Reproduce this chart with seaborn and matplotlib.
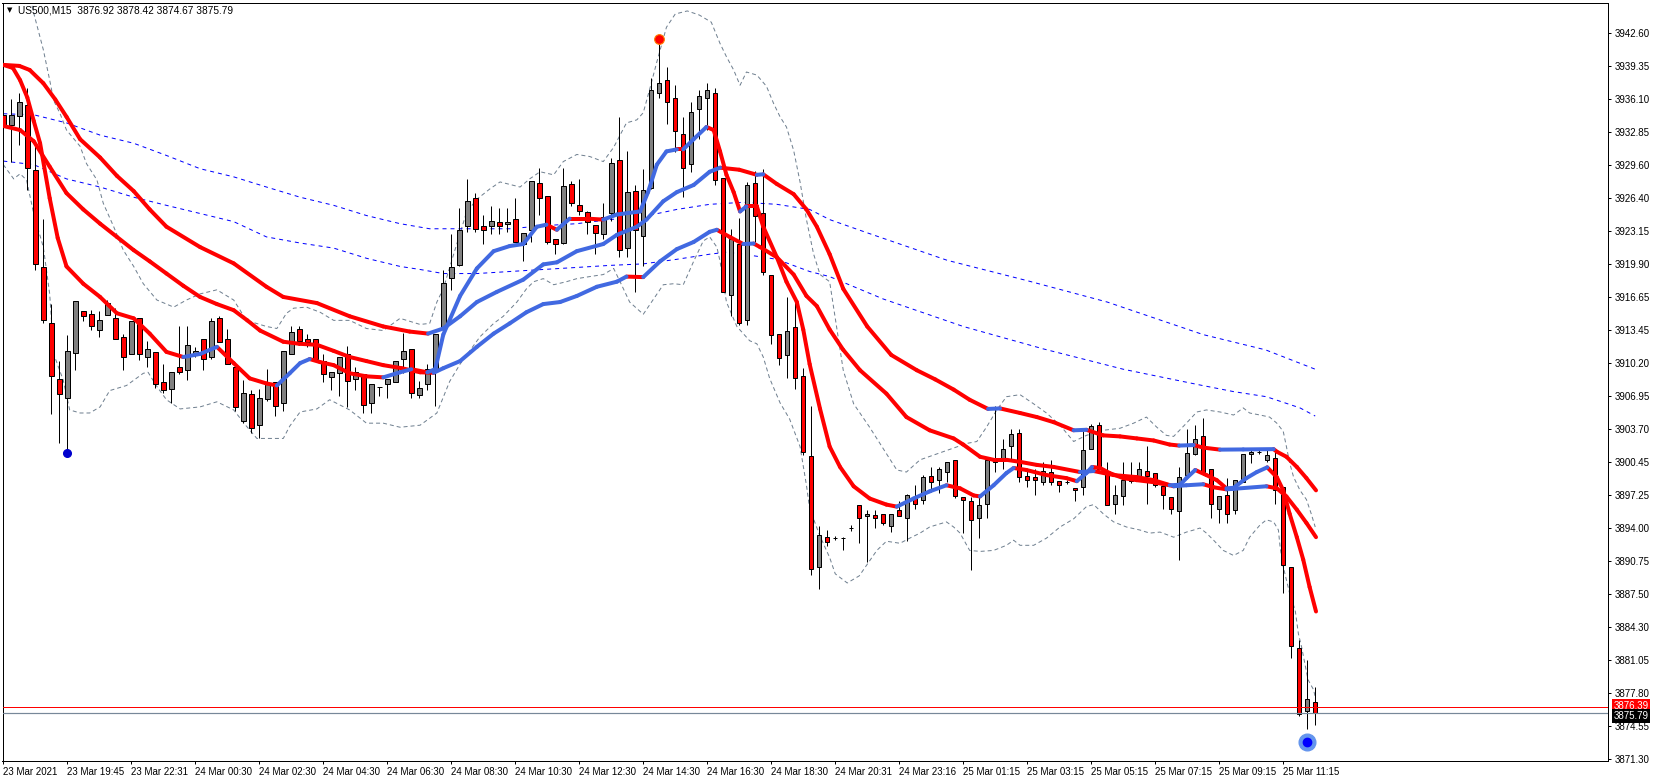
import numpy as np
import pandas as pd
import matplotlib
matplotlib.use("Agg")
import matplotlib.pyplot as plt
import seaborn as sns
from matplotlib.transforms import blended_transform_factory

sns.set_style("white")
plt.rcParams['font.family'] = ['Liberation Sans', 'DejaVu Sans']

# ---------------- data ----------------
title_text = "US500,M15  3876.92 3878.42 3874.67 3875.79"

bar_open = [
3934.6, 3933.6, 3934.5, 3935.6, 3929.2, 3919.6, 3914.1, 3908.6, 3906.8, 3911.2,
3915.3, 3915.0, 3913.5, 3914.9, 3914.6, 3912.8, 3911.1, 3914.6, 3910.8, 3911.3,
3908.3, 3907.7, 3909.8, 3909.5, 3911.2, 3912.6, 3910.8, 3914.6, 3912.6, 3909.8,
3904.5, 3907.2, 3904.1, 3906.7, 3908.3, 3906.3, 3911.1, 3913.6, 3912.6, 3912.6,
3910.4, 3908.8, 3909.2, 3911.1, 3908.6, 3909.1, 3906.3, 3907.9, 3908.1, 3908.3,
3910.6, 3911.6, 3907.1, 3908.1, 3909.5, 3913.6, 3918.6, 3919.8, 3923.7, 3926.4,
3923.7, 3923.7, 3924.1, 3923.9, 3924.4, 3921.9, 3923.3, 3927.9, 3926.6, 3922.4,
3922.0, 3927.8, 3925.7, 3925.0, 3923.8, 3922.9, 3924.9, 3930.2, 3921.5, 3927.1,
3922.7, 3927.4, 3936.7, 3938.0, 3936.2, 3932.7, 3929.8, 3935.2, 3936.2, 3936.7,
3928.4, 3916.9, 3921.9, 3914.4, 3927.9, 3924.9, 3918.9, 3913.1, 3911.0, 3913.7,
3908.9, 3901.1, 3890.2, 3893.1, 3893.0, 3893.0, 3894.0, 3896.3, 3895.2, 3895.3,
3895.4, 3894.2, 3895.8, 3895.0, 3897.0, 3896.8, 3899.1, 3898.7, 3899.5, 3900.7,
3897.0, 3896.7, 3895.0, 3896.4, 3900.9, 3900.7, 3902.1, 3903.3, 3899.1, 3899.0,
3898.5, 3899.5, 3898.6, 3898.5, 3897.9, 3898.0, 3901.8, 3904.1, 3899.6, 3896.4,
3897.1, 3898.6, 3898.9, 3899.6, 3899.4, 3898.1, 3897.0, 3895.7, 3899.2, 3901.3,
3903.0, 3899.8, 3895.9, 3897.2, 3895.8, 3898.5, 3901.3, 3901.5, 3900.7, 3900.9,
3898.0, 3890.2, 3882.2, 3876.0, 3876.92]

bar_high = [
3935.9, 3936.1, 3936.7, 3937.2, 3931.5, 3924.4, 3916.0, 3910.4, 3913.0, 3916.3,
3915.3, 3915.4, 3915.3, 3916.4, 3915.6, 3913.1, 3914.3, 3914.6, 3912.4, 3911.3,
3910.1, 3909.3, 3913.8, 3913.8, 3911.8, 3912.6, 3914.6, 3914.8, 3913.6, 3910.1,
3908.5, 3907.6, 3907.7, 3909.6, 3908.3, 3911.4, 3913.8, 3913.8, 3913.1, 3912.6,
3911.1, 3909.3, 3910.8, 3911.9, 3909.8, 3909.1, 3908.1, 3907.9, 3908.6, 3910.4,
3913.2, 3911.6, 3908.4, 3910.1, 3913.1, 3919.3, 3922.9, 3925.4, 3928.3, 3926.9,
3924.8, 3925.6, 3925.4, 3925.4, 3926.4, 3923.0, 3928.1, 3929.4, 3926.6, 3922.4,
3929.4, 3928.1, 3928.3, 3925.1, 3923.8, 3925.9, 3930.4, 3934.4, 3931.0, 3927.7,
3929.3, 3938.2, 3942.0, 3939.3, 3937.5, 3934.4, 3935.9, 3937.0, 3937.7, 3937.2,
3928.4, 3923.4, 3924.5, 3928.0, 3929.1, 3929.3, 3918.9, 3913.1, 3916.7, 3916.4,
3909.7, 3906.0, 3894.2, 3893.8, 3893.2, 3893.15, 3894.3, 3896.3, 3895.8, 3895.8,
3895.4, 3895.4, 3896.7, 3897.3, 3898.2, 3899.2, 3900.0, 3900.0, 3900.5, 3900.7,
3897.0, 3897.0, 3897.0, 3900.7, 3906.0, 3902.7, 3903.7, 3903.7, 3899.8, 3899.8,
3900.5, 3900.7, 3898.6, 3898.7, 3897.9, 3903.5, 3904.2, 3904.4, 3900.5, 3898.2,
3900.5, 3900.5, 3900.5, 3902.1, 3899.4, 3898.1, 3897.0, 3900.0, 3903.7, 3904.1,
3904.8, 3899.8, 3897.1, 3898.9, 3898.7, 3901.3, 3901.7, 3901.7, 3901.7, 3901.7,
3898.0, 3890.2, 3883.0, 3881.0, 3878.42]

bar_low = [
3931.0, 3930.0, 3931.6, 3927.2, 3919.3, 3914.1, 3905.2, 3902.4, 3901.7, 3909.5,
3914.3, 3913.5, 3912.8, 3914.9, 3912.6, 3909.5, 3911.1, 3910.5, 3909.8, 3907.8,
3907.3, 3906.3, 3909.1, 3908.5, 3910.8, 3909.5, 3910.6, 3912.3, 3910.1, 3905.5,
3904.3, 3903.3, 3902.8, 3906.5, 3905.0, 3905.5, 3911.1, 3912.0, 3911.8, 3910.6,
3908.3, 3907.6, 3907.0, 3905.9, 3907.6, 3905.3, 3905.3, 3907.0, 3906.8, 3908.3,
3909.2, 3906.8, 3906.8, 3907.6, 3906.0, 3913.5, 3917.4, 3919.7, 3923.1, 3923.1,
3921.9, 3922.9, 3922.9, 3923.1, 3922.1, 3920.2, 3922.1, 3924.8, 3921.9, 3920.9,
3921.9, 3925.6, 3924.8, 3922.9, 3920.9, 3922.4, 3924.2, 3920.6, 3920.6, 3917.2,
3919.7, 3927.3, 3936.2, 3933.7, 3930.9, 3926.5, 3929.0, 3932.2, 3933.1, 3927.7,
3917.2, 3914.8, 3913.9, 3913.9, 3922.1, 3918.9, 3912.1, 3910.0, 3908.7, 3907.7,
3901.2, 3889.4, 3888.0, 3892.2, 3892.8, 3891.8, 3893.7, 3892.5, 3890.7, 3894.0,
3894.3, 3893.6, 3895.2, 3892.7, 3895.9, 3896.4, 3897.5, 3897.4, 3898.5, 3896.9,
3893.5, 3889.9, 3893.0, 3895.0, 3899.5, 3899.8, 3900.8, 3898.5, 3898.0, 3897.2,
3898.2, 3898.2, 3897.5, 3898.3, 3896.7, 3897.2, 3901.8, 3899.7, 3896.3, 3895.4,
3896.3, 3898.4, 3898.9, 3896.4, 3898.0, 3895.9, 3895.4, 3890.9, 3898.9, 3901.2,
3899.2, 3895.0, 3894.5, 3894.5, 3895.4, 3898.5, 3900.4, 3901.3, 3900.5, 3896.4,
3887.6, 3881.2, 3875.5, 3874.3, 3874.67]

bar_close = [
3933.4, 3934.6, 3935.9, 3929.4, 3919.9, 3914.4, 3908.9, 3907.2, 3911.4, 3916.3,
3914.8, 3913.8, 3914.4, 3916.1, 3912.6, 3910.8, 3914.3, 3911.1, 3911.6, 3908.1,
3907.6, 3909.3, 3909.3, 3912.0, 3911.4, 3910.6, 3914.3, 3912.3, 3910.1, 3905.9,
3907.3, 3903.8, 3906.8, 3908.1, 3906.0, 3911.4, 3913.3, 3912.4, 3912.3, 3910.6,
3909.1, 3909.3, 3910.8, 3908.4, 3909.3, 3906.1, 3908.1, 3907.9, 3908.6, 3910.4,
3911.4, 3907.3, 3907.8, 3909.6, 3913.1, 3918.1, 3919.6, 3923.3, 3926.1, 3923.4,
3923.3, 3924.2, 3923.7, 3924.1, 3922.1, 3923.0, 3928.1, 3926.4, 3922.1, 3921.9,
3927.6, 3925.9, 3925.1, 3924.1, 3923.0, 3924.6, 3929.9, 3921.3, 3927.0, 3923.3,
3927.2, 3937.0, 3937.7, 3935.9, 3933.0, 3929.4, 3934.9, 3936.4, 3937.0, 3928.2,
3917.2, 3922.4, 3914.1, 3927.7, 3924.7, 3919.2, 3913.0, 3910.7, 3913.4, 3908.7,
3901.5, 3890.0, 3893.3, 3892.6, 3893.0, 3893.0, 3894.0, 3895.0, 3895.4, 3895.0,
3894.5, 3895.4, 3895.2, 3897.2, 3896.4, 3899.0, 3898.5, 3899.8, 3900.5, 3897.1,
3896.8, 3894.8, 3896.3, 3900.7, 3900.5, 3901.8, 3903.2, 3899.0, 3898.7, 3898.7,
3899.6, 3898.5, 3898.2, 3898.5, 3897.7, 3901.7, 3904.0, 3899.8, 3896.3, 3897.2,
3898.7, 3898.9, 3899.8, 3899.1, 3898.2, 3897.2, 3895.9, 3899.0, 3901.4, 3902.7,
3899.5, 3896.4, 3897.1, 3895.4, 3898.7, 3901.3, 3901.5, 3901.5, 3901.2, 3897.7,
3890.4, 3882.4, 3875.7, 3877.2, 3875.79]

time_labels = ["23 Mar 2021", "23 Mar 19:45", "23 Mar 22:31", "24 Mar 00:30", "24 Mar 02:30",
               "24 Mar 04:30", "24 Mar 06:30", "24 Mar 08:30", "24 Mar 10:30", "24 Mar 12:30",
               "24 Mar 14:30", "24 Mar 16:30", "24 Mar 18:30", "24 Mar 20:31", "24 Mar 23:16",
               "25 Mar 01:15", "25 Mar 03:15", "25 Mar 05:15", "25 Mar 07:15", "25 Mar 09:15",
               "25 Mar 11:15"]

price_labels = ["3871.30", "3874.55", "3877.80", "3881.05", "3884.30", "3887.50", "3890.75",
                "3894.00", "3897.25", "3900.45", "3903.70", "3906.95", "3910.20", "3913.45",
                "3916.65", "3919.90", "3923.15", "3926.40", "3929.60", "3932.85", "3936.10",
                "3939.35", "3942.60"]

# thick moving averages (bar index, price)
slow_x = [0, 2, 3.3, 5, 6.5, 7.9, 9.6, 12.1, 14.2, 16.3, 18.3, 20.4, 24.6, 28.8, 32.9, 35, 39.2, 43.3,
          47.5, 50.8, 53.1, 55, 57.1, 59.2, 61.7, 65, 67.5, 69.2, 71.7, 75, 76.7, 79.2, 80.4, 82.5,
          84.2, 86.3, 88.3, 89.6, 92, 94.2, 95, 96.7, 98.8, 100.4, 101.7, 103.3, 105, 108, 111,
          114.2, 116.5, 118.8, 120.8, 123.1, 124.6, 127.1, 129.2, 131.3, 133.8, 135.4, 137.5,
          139.6, 141.7, 143.8, 145.8, 147, 148.8, 150, 152.1, 155, 158.8, 159.2, 160.4, 161.7,
          162.9, 164.1]
slow_y = [3939.5, 3939.4, 3939.0, 3937.7, 3936.1, 3934.4, 3932.2, 3930.4, 3928.6, 3927.1,
          3925.3, 3923.6, 3921.6, 3920.0, 3917.7, 3916.7, 3916.1, 3914.8, 3913.8, 3913.3,
          3913.1, 3913.6, 3914.8, 3916.2, 3917.2, 3918.4, 3919.9, 3920.1, 3921.2, 3921.9,
          3922.8, 3923.6, 3924.3, 3926.1, 3927.0, 3927.7, 3929.0, 3929.4, 3929.2, 3928.7,
          3928.75, 3927.8, 3926.8, 3925.3, 3923.6, 3920.9, 3917.5, 3913.8, 3911.0, 3909.5,
          3908.6, 3907.6, 3906.6, 3905.7, 3905.75, 3905.3, 3904.9, 3904.4, 3903.6, 3903.65,
          3903.1, 3903.0, 3902.8, 3902.6, 3902.2, 3902.1, 3902.15, 3901.9, 3901.7, 3901.72,
          3901.75, 3901.5, 3901.0, 3900.0, 3898.9, 3897.7]

mid_x = [0, 2.1, 3.8, 5.8, 7.9, 10, 12.1, 14.2, 16.3, 18.3, 20.4, 22.5, 24.6, 26.7, 28.8, 30.5,
         32.1, 35, 37, 39.2, 41.3, 43.3, 45.4, 47.5, 49.8, 52.1, 53.8, 55, 57.1, 59.2, 61.3, 63.3,
         65.4, 67.5, 69.6, 71.7, 74.2, 76.7, 77.9, 80, 82.1, 84.2, 86.3, 88.3, 89.2, 90.8, 92.5,
         93.8, 94.6, 96.7, 98.8, 100.4, 101.7, 103.3, 105, 107.1, 110.4, 112.9, 115.8, 118.8,
         120, 122.1, 123.8, 125.4, 127.1, 129.2, 131.3, 134.6, 136.3, 138.8, 141.7, 143.8,
         146.3, 147.9, 150, 151.3, 152.9, 153.8, 157.9, 159.2, 160.4, 161.7, 162.9, 164.1]
mid_y = [3933.5, 3933.1, 3932.0, 3929.5, 3926.9, 3925.3, 3923.9, 3922.6, 3921.3, 3920.2,
         3919.0, 3917.8, 3916.7, 3916.0, 3915.4, 3914.4, 3913.4, 3912.3, 3912.1, 3912.0,
         3911.4, 3910.8, 3910.4, 3910.0, 3909.7, 3909.3, 3909.25, 3909.7, 3910.4, 3911.8,
         3913.1, 3914.1, 3915.2, 3916.0, 3916.2, 3916.8, 3917.7, 3918.2, 3918.7, 3918.65,
         3920.2, 3921.4, 3922.1, 3923.1, 3923.3, 3922.6, 3921.9, 3921.95, 3921.6, 3920.6,
         3918.9, 3916.8, 3915.8, 3913.5, 3911.5, 3909.5, 3907.2, 3904.9, 3903.6, 3902.8,
         3902.2, 3901.0, 3900.7, 3900.7, 3900.5, 3900.2, 3900.0, 3899.5, 3899.6, 3899.2,
         3899.0, 3898.7, 3898.1, 3898.2, 3898.3, 3898.0, 3897.8, 3897.85, 3898.1, 3897.9,
         3897.1, 3895.8, 3894.5, 3893.1]

fast_x = [0, 1.2, 2.1, 3, 3.8, 4.6, 5.8, 6.8, 7.9, 10, 12.1, 14.2, 16.3, 18.3, 20.4, 22.5, 24.6,
          26.7, 28.8, 30.8, 32.9, 34.2, 35.8, 37.1, 38.3, 39.6, 41.3, 43.3, 45.4, 47.5, 49.6, 51,
          53, 54, 55, 57.1, 59.2, 61.3, 63.3, 65, 66.7, 67.9, 69.2, 70.8, 72.9, 75, 76.7, 79.6,
          80.6, 81.7, 82.9, 84.2, 85, 86.3, 87.9, 88.8, 89.6, 90.4, 91.3, 92.1, 92.9, 94.2, 95,
          96.7, 97.9, 99.2, 100, 100.8, 102.1, 103.3, 104.6, 106.3, 108.3, 110.4, 111.7, 113.8,
          115.8, 117.9, 119.6, 121.3, 122.1, 123.8, 125.4, 126.3, 127.9, 130.4, 132.9, 134.2,
          135.4, 136.1, 137.1, 138.3, 140, 141.7, 143.8, 145.8, 147.1, 147.9, 149, 150.4, 151.7,
          152.9, 153.8, 155.4, 156.7, 158, 159.2, 160, 160.8, 161.7, 162.5, 163.3, 164.1]
fast_y = [3939.5, 3939.2, 3938.0, 3936.3, 3934.0, 3931.8, 3926.4, 3922.5, 3919.7, 3918.0,
          3916.7, 3915.1, 3914.6, 3913.1, 3911.3, 3910.8, 3911.1, 3911.8, 3910.2, 3908.7,
          3908.2, 3908.0, 3909.2, 3910.2, 3910.6, 3910.3, 3910.0, 3909.2, 3908.9, 3908.8,
          3909.3, 3909.6, 3909.3, 3909.6, 3913.0, 3916.8, 3919.5, 3921.2, 3921.7, 3921.9,
          3923.6, 3923.8, 3923.3, 3924.4, 3924.4, 3924.3, 3924.8, 3925.1, 3927.0, 3929.7,
          3931.0, 3931.2, 3931.2, 3932.2, 3933.4, 3933.1, 3931.0, 3928.7, 3927.0, 3925.1,
          3925.6, 3925.6, 3923.6, 3920.6, 3918.2, 3916.2, 3913.5, 3910.1, 3905.7, 3902.0,
          3900.0, 3898.1, 3896.9, 3896.3, 3896.1, 3896.9, 3897.6, 3898.2, 3897.9, 3897.2,
          3897.1, 3898.2, 3899.4, 3899.9, 3899.7, 3899.2, 3898.9, 3898.6, 3899.4, 3900.0,
          3899.9, 3899.4, 3898.9, 3898.7, 3898.5, 3898.2, 3898.25, 3898.9, 3899.7, 3899.2,
          3898.7, 3897.9, 3897.95, 3898.9, 3899.5, 3899.96, 3899.0, 3897.7, 3895.4, 3893.1,
          3890.9, 3888.2, 3885.8]

# long moving averages (blue dotted)
ma1_x = [0, 3.8, 7.9, 12.1, 16.3, 20.4, 24.6, 28.8, 32.9, 37.1, 41.3, 45.4, 49.6, 53.3, 59.2, 63.3,
         67.5, 71.7, 75.8, 80, 84.2, 88.3, 92.5, 96.7, 100.8, 103.3, 108, 118, 128, 138, 150,
         157.8, 164]
ma1_y = [3934.7, 3934.6, 3933.8, 3932.6, 3931.8, 3930.6, 3929.3, 3928.5, 3927.5, 3926.5,
         3925.7, 3924.7, 3923.9, 3923.4, 3923.4, 3923.4, 3923.7, 3923.9, 3924.3, 3924.6,
         3925.3, 3925.8, 3926.0, 3925.8, 3925.3, 3924.3, 3923.0, 3920.3, 3918.3, 3916.2,
         3913.0, 3911.5, 3909.6]
ma2_x = [0, 3.8, 7.9, 12.1, 16.3, 20.4, 24.6, 28.8, 32.9, 37.1, 41.3, 45.4, 49.6, 52.1, 55, 59.2,
         63.3, 67.5, 71.7, 75.8, 80, 84.2, 88.3, 90.4, 92.5, 96.7, 100.8, 103.3, 110, 120, 130,
         140, 149.6, 153.8, 157.9, 162.1, 164]
ma2_y = [3930.05, 3929.7, 3928.3, 3927.5, 3926.5, 3925.7, 3924.9, 3924.1, 3922.6, 3922.0,
         3921.5, 3920.5, 3919.7, 3919.4, 3919.0, 3919.0, 3919.2, 3919.4, 3919.6, 3919.8,
         3919.95, 3920.4, 3920.9, 3921.1, 3920.9, 3920.4, 3919.2, 3918.7, 3916.5, 3913.8,
         3911.6, 3909.6, 3908.05, 3907.4, 3906.9, 3905.8, 3905.0]

# Bollinger bands (gray dashed)
bbu_x = [3.0, 3.7, 5, 5.8, 6.3, 7.1, 7.9, 9.6, 10.4, 11.7, 12.5, 13.8, 15, 16.3, 17.5, 19.2, 21.3,
         22.9, 24.6, 26.7, 28.8, 30.4, 32.9, 34.2, 35.4, 36.3, 37.9, 39.6, 41.3, 43.3, 45.4,
         47.5, 49.6, 52.1, 53.3, 54.2, 55, 56.3, 57.9, 59.2, 60.8, 62.1, 64.6, 65.8, 67.1, 68.8,
         70, 71.7, 73.3, 75, 76.3, 77.9, 79.2, 80, 80.8, 81.7, 82.9, 84, 85.5, 87, 88.5, 89.6,
         90.4, 91.3, 92.1, 92.9, 94.2, 95.4, 96.3, 97.1, 97.9, 98.8, 99.6, 100.4, 101.3, 102.1,
         103.3, 105, 106.3, 108.3, 110.4, 111.7, 112.9, 114.6, 117.5, 120.4, 121.7, 122.9,
         124.2, 125.4, 127.1, 128.8, 130.4, 132.1, 133.8, 135.4, 137.5, 139.6, 141.3, 142.9,
         144.2, 145.4, 146.3, 147.9, 149.2, 150.4, 152.1, 153.8, 155, 155.8, 157.1, 158.3,
         159.2, 160, 160.4, 160.8, 161.3, 162.1, 162.9, 163.5, 164]
bbu_y = [3947.5, 3944.9, 3941.0, 3938.0, 3936.0, 3934.7, 3933.1, 3931.5, 3929.8, 3928.2,
         3925.9, 3923.6, 3921.3, 3919.7, 3918.0, 3916.4, 3915.7, 3916.4, 3917.0, 3917.4,
         3916.4, 3914.4, 3913.8, 3913.6, 3915.1, 3915.6, 3915.7, 3915.2, 3914.4, 3914.4,
         3913.6, 3913.4, 3914.6, 3914.0, 3914.1, 3916.2, 3917.5, 3920.9, 3925.0, 3926.3,
         3927.3, 3928.0, 3927.5, 3928.3, 3929.0, 3928.7, 3930.0, 3930.7, 3930.5, 3930.0,
         3931.4, 3933.8, 3934.1, 3934.8, 3937.1, 3939.8, 3943.2, 3944.5, 3944.8, 3944.4,
         3943.7, 3941.6, 3940.3, 3939.0, 3937.5, 3938.8, 3938.5, 3937.4, 3935.7, 3934.4,
         3933.4, 3931.1, 3928.0, 3924.3, 3920.9, 3918.9, 3918.2, 3909.5, 3906.2, 3903.9,
         3901.3, 3899.7, 3899.5, 3900.7, 3901.5, 3902.3, 3902.5, 3903.9, 3905.6, 3906.9,
         3907.1, 3906.2, 3905.3, 3904.1, 3902.5, 3903.1, 3903.6, 3903.8, 3904.3, 3904.9,
         3903.9, 3903.1, 3903.0, 3904.3, 3905.4, 3905.6, 3905.4, 3905.1, 3905.8, 3905.3,
         3905.1, 3904.9, 3904.3, 3903.5, 3902.0, 3900.4, 3899.0, 3897.7, 3896.8, 3895.4,
         3894.1]
bbl_x = [0, 1.3, 2.1, 2.9, 3.8, 5, 5.8, 6.3, 7.5, 8.3, 9.6, 10.8, 12.1, 13.3, 15.4, 17.5, 18.1,
         19.2, 20.4, 22.1, 24.6, 26.7, 28.8, 30.4, 31.7, 35, 35.8, 37.1, 39.2, 40.8, 43.3, 45.4,
         47.5, 49.6, 52.1, 54.2, 55.8, 57.1, 58.3, 59.6, 61.3, 62.5, 64.2, 65.4, 66.3, 67.5,
         68.8, 70.4, 71.7, 73.3, 75, 76.3, 77.1, 78.3, 80, 81.3, 82.5, 83.8, 85, 86.3, 87.5,
         88.3, 89.2, 89.6, 90.4, 91.7, 93.3, 94.2, 95, 95.8, 97.1, 98.3, 99.6, 100.4, 100.8,
         102.1, 103.3, 104, 105.5, 107, 109.2, 110.4, 112.1, 113.3, 114.6, 115.8, 117.9, 118.8,
         119.6, 120.8, 122.1, 123.8, 125.4, 126.3, 127.1, 128.8, 130.4, 132.1, 133.8, 135.4,
         136.3, 137.5, 138.8, 140.4, 142.1, 143.3, 144.6, 146.3, 147.9, 148.8, 149.6, 150.4,
         151.3, 152.5, 153.8, 155, 155.8, 157.1, 157.9, 158.8, 159.4, 159.6, 160, 160.8, 161.5,
         161.9, 162.3, 162.7, 163.1, 163.8, 164]
bbl_y = [3929.7, 3928.3, 3928.8, 3928.2, 3924.9, 3921.6, 3917.0, 3911.1, 3908.5, 3905.6,
         3905.3, 3905.3, 3905.9, 3907.5, 3908.0, 3909.2, 3909.3, 3907.9, 3906.6, 3905.7,
         3905.9, 3906.4, 3905.6, 3904.0, 3902.8, 3902.8, 3904.0, 3905.4, 3905.7, 3906.6,
         3905.6, 3904.3, 3904.3, 3903.9, 3904.1, 3905.3, 3908.4, 3910.1, 3911.4, 3912.8,
         3914.1, 3914.8, 3916.2, 3917.5, 3918.2, 3918.5, 3917.9, 3918.2, 3918.5, 3918.7,
         3918.9, 3919.5, 3918.2, 3916.2, 3915.0, 3916.5, 3917.9, 3918.0, 3917.9, 3920.2,
         3922.2, 3922.6, 3921.6, 3920.2, 3916.2, 3913.8, 3912.4, 3912.1, 3910.8, 3908.7,
         3906.3, 3904.7, 3902.0, 3898.2, 3895.9, 3893.2, 3891.1, 3889.5, 3888.6, 3889.3,
         3891.8, 3892.7, 3892.5, 3893.0, 3893.5, 3894.1, 3894.6, 3894.1, 3893.5, 3891.8,
         3891.7, 3891.8, 3892.3, 3892.8, 3892.3, 3892.3, 3893.0, 3894.1, 3894.9, 3896.1,
         3896.3, 3895.4, 3894.6, 3894.1, 3893.8, 3893.5, 3893.6, 3893.1, 3893.6, 3893.8,
         3894.0, 3893.5, 3892.8, 3891.8, 3891.3, 3891.8, 3893.1, 3894.3, 3894.8, 3894.6,
         3893.8, 3892.2, 3890.2, 3887.6, 3885.9, 3883.6, 3882.3, 3880.7, 3879.1, 3878.1,
         3877.4]

high_mark = (82, 3942.04)
low_mark = (8, 3901.4)
signal_mark = (163, 3872.98)
ask_price = 3876.39
bid_price = 3875.79

# ---------------- figure ----------------
W, H = 1654, 782
fig = plt.figure(figsize=(W / 100, H / 100), dpi=100)
fig.patch.set_facecolor("white")
ax = fig.add_axes([2.5 / W, 21 / H, 1605.5 / W, 758 / H])
ax.set_facecolor("white")
PX = 0.72  # one pixel in points

o = np.array(bar_open); h = np.array(bar_high); l = np.array(bar_low); c = np.array(bar_close)
idx = np.arange(len(c))

# bands and long averages
sns.lineplot(x=bbu_x, y=bbu_y, ax=ax, color="#708090", lw=PX, linestyle=(0, (4, 3)), zorder=1, estimator=None)
sns.lineplot(x=bbl_x, y=bbl_y, ax=ax, color="#708090", lw=PX, linestyle=(0, (4, 3)), zorder=1, estimator=None)
sns.lineplot(x=ma1_x, y=ma1_y, ax=ax, color="#0000FF", lw=PX, linestyle=(0, (4, 4)), zorder=1, estimator=None)
sns.lineplot(x=ma2_x, y=ma2_y, ax=ax, color="#0000FF", lw=PX, linestyle=(0, (4, 4)), zorder=1, estimator=None)

# candles
ax.vlines(idx, l, h, colors="black", lw=PX, zorder=2)
fill = np.where(c > o, "#808080", "#FF0000")
ax.bar(idx, np.abs(c - o), bottom=np.minimum(o, c), width=0.56, color=fill,
       edgecolor="black", linewidth=PX, zorder=3)

# thick colour-changing averages
def seg_frame(xs, ys):
    rows = []
    for k in range(len(xs) - 1):
        d = "up" if ys[k + 1] > ys[k] else "down"
        rows.append((k, xs[k], ys[k], d))
        rows.append((k, xs[k + 1], ys[k + 1], d))
    return pd.DataFrame(rows, columns=["seg", "x", "y", "dir"])

for xs, ys in [(slow_x, slow_y), (mid_x, mid_y), (fast_x, fast_y)]:
    df = seg_frame(xs, ys)
    sns.lineplot(data=df, x="x", y="y", hue="dir", units="seg", estimator=None, sort=False,
                 palette={"up": "#4169E1", "down": "#FF0000"}, lw=4 * PX, legend=False,
                 solid_capstyle="round", ax=ax, zorder=4)

# markers
ax.plot(*high_mark, "o", ms=7, mfc="#FF0000", mec="#FF7F00", mew=0.8, zorder=6)
ax.plot(*low_mark, "o", ms=5.5, color="#0000CD", zorder=6)
ax.plot(*signal_mark, "o", ms=12, color="#6495ED", zorder=6)
ax.plot(*signal_mark, "o", ms=6, color="#0000FF", zorder=7)

# price lines
ax.axhline(ask_price, color="#FF0000", lw=PX, zorder=5)
ax.axhline(bid_price, color="#778899", lw=PX * 1.2, zorder=5)

# axes
ax.set_xlim(-0.1, 200.6)
ax.set_ylim(3871.11, 3945.58)
ax.grid(False)
for s in ax.spines.values():
    s.set_color("black")
    s.set_linewidth(PX)

ax.yaxis.tick_right()
ax.set_yticks(np.linspace(3871.30, 3942.60, len(price_labels)))
ax.set_yticklabels(price_labels)
ax.set_xticks(np.arange(0, 8 * len(time_labels), 8))
ax.set_xticklabels(time_labels, ha="left")
ax.tick_params(axis="y", direction="out", length=3 * PX, width=PX, pad=2.5, labelsize=7,
               colors="black", right=True, left=False)
ax.tick_params(axis="x", direction="out", length=3 * PX, width=PX, pad=2, labelsize=7,
               colors="black", bottom=True, top=False)
ax.set_xlabel("")
ax.set_ylabel("")

tr = blended_transform_factory(ax.transAxes, ax.transData)
ax.text(1.0035, ask_price + 0.12, f"{ask_price:.2f}", transform=tr, fontsize=7, color="white",
        va="center", ha="left", zorder=8, clip_on=False,
        bbox=dict(boxstyle="square,pad=0.18", fc="#FF0000", ec="none"))
ax.text(1.0035, bid_price - 0.28, f"{bid_price:.2f}", transform=tr, fontsize=7, color="white",
        va="center", ha="left", zorder=9, clip_on=False,
        bbox=dict(boxstyle="square,pad=0.18", fc="black", ec="none"))

fig.text(7 / W, 1 - 10.5 / H, "\u25BC", fontsize=5, va="center", ha="left", color="black",
         family=["DejaVu Sans"])
fig.text(18 / W, 1 - 10.5 / H, title_text, fontsize=7.3, va="center", ha="left", color="black")

fig.savefig("out.png", dpi=100, facecolor="white")
